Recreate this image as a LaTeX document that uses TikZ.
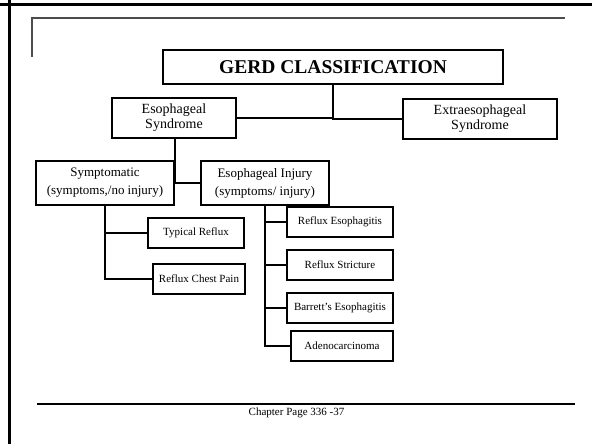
\documentclass[tikz,border=0pt]{standalone}
\usepackage{fontspec}
\setmainfont{Liberation Serif}
\usepackage{tikz}
\usetikzlibrary{calc}

\begin{document}
\begin{tikzpicture}[
    x=1pt, y=-1pt,
    box/.style={
        draw=black, line width=2pt, fill=white,
        inner sep=1pt, align=center
    },
    bigbox/.style={box, font=\fontsize{14}{15}\selectfont},
    midbox/.style={box, font=\fontsize{13}{18}\selectfont},
    smallbox/.style={box, minimum height=30pt, font=\fontsize{11}{13}\selectfont},
    link/.style={line width=2pt, black},
    frameline/.style={line width=3pt, black},
]
\useasboundingbox (0,0) rectangle (592,444);

% ── Slide frame ──
\draw[frameline] (0,4.5) -- (592,4.5);
\draw[frameline] (9.5,0) -- (9.5,444);
\draw[line width=2pt, black!70] (32,57) -- (32,18) -- (565,18);
\draw[line width=2pt, black] (37,404) -- (575,404);

% ── Boxes ──
\node[box, minimum width=340pt, minimum height=34pt,
      font=\fontsize{19.5}{21}\selectfont\bfseries] (gerd) at (333,67) {GERD CLASSIFICATION};
\node[bigbox, minimum width=124pt, minimum height=40pt] (esyn)  at (174,118) {Esophageal\\Syndrome};
\node[bigbox, minimum width=154pt, minimum height=40pt] (extra) at (480,119) {Extraesophageal\\Syndrome};
\node[midbox, minimum width=138pt, minimum height=44pt] (sympt) at (105,183) {Symptomatic\\(symptoms,/no injury)};
\node[midbox, minimum width=128pt, minimum height=44pt] (injury) at (265,183) {Esophageal Injury\\(symptoms/ injury)};

\node[smallbox, minimum width=96pt] (typical) at (196,233) {Typical Reflux};
\node[smallbox, minimum width=92pt] (chest)   at (199,279) {Reflux Chest Pain};

\node[smallbox, minimum width=106pt] (refeso)  at (340,222) {Reflux Esophagitis};
\node[smallbox, minimum width=106pt] (strict)  at (340,265) {Reflux Stricture};
\node[smallbox, minimum width=106pt] (barrett) at (340,308) {Barrett’s Esophagitis};
\node[smallbox, minimum width=102pt] (adeno)   at (342,346) {Adenocarcinoma};

% ── Tree links ──
\draw[link] (gerd.south) |- (esyn.east);
\draw[link] (gerd.south) |- (extra.west);
\draw[link] (esyn.south -| sympt.east) |- (injury.west);
\draw[link] (sympt.south) |- (typical.west);
\draw[link] (sympt.south) |- (chest.west);
\draw[link] (injury.south) |- (refeso.west);
\draw[link] (injury.south) |- (strict.west);
\draw[link] (injury.south) |- (barrett.west);
\draw[link] (injury.south) |- (adeno.west);

% ── Footer ──
\node[font=\fontsize{11}{13}\selectfont, inner sep=0pt] (footer) at (296.5,413) {Chapter Page 336 -37};

\end{tikzpicture}
\end{document}
